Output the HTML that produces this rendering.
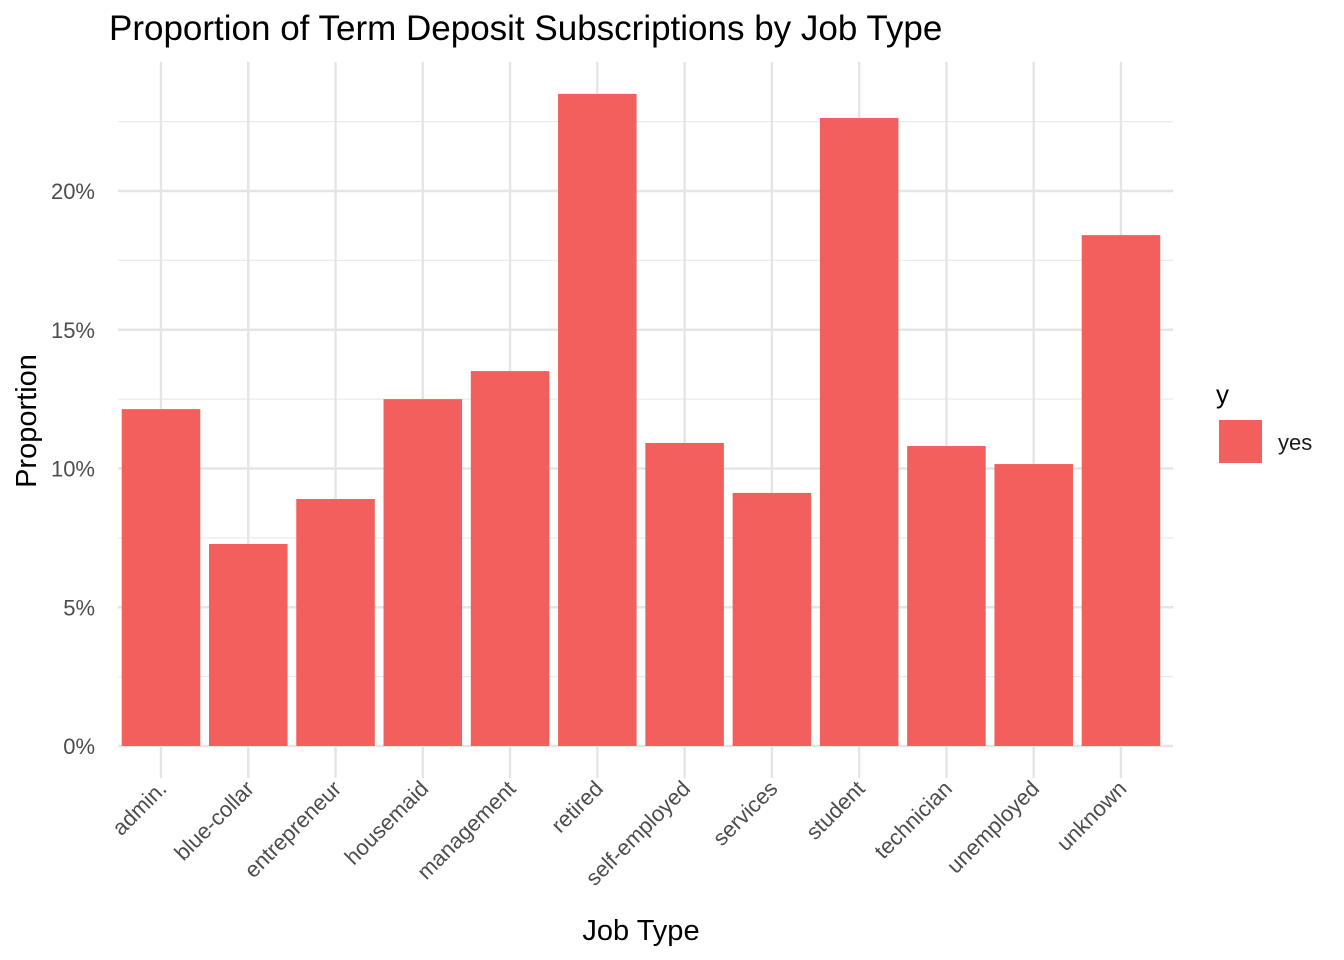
<!DOCTYPE html>
<html><head><meta charset="utf-8"><style>
html,body{margin:0;padding:0;background:#fff;}
svg{display:block;font-family:"Liberation Sans",Arial,sans-serif;}
</style></head><body>
<svg id="chart" width="1344" height="960">
<text x="109" y="40" font-size="35" fill="#000">Proportion of Term Deposit Subscriptions by Job Type</text>
<g id="grid"></g><g id="bars"></g><g id="yticks"></g><g id="xticks"></g>
<text x="641" y="940" font-size="29" text-anchor="middle" fill="#000">Job Type</text>
<text transform="translate(36,421) rotate(-90)" font-size="29" text-anchor="middle" fill="#000">Proportion</text>
<g>
<text x="1216" y="403" font-size="26" fill="#000">y</text>
<rect x="1219" y="420" width="43" height="43" fill="#F25F5C"/>
<text x="1278" y="450" font-size="22" fill="#1a1a1a">yes</text>
</g>
</svg>
<script>
const categories=["admin.","blue-collar","entrepreneur","housemaid","management","retired","self-employed","services","student","technician","unemployed","unknown"];
const values=[12.14,7.28,8.90,12.50,13.51,23.50,10.92,9.12,22.63,10.81,10.16,18.41];
const yTicks=[0,5,10,15,20];
const yTickLabels=["0%","5%","10%","15%","20%"];
(function(){
const NS="http://www.w3.org/2000/svg";
const gLeft=118,gRight=1173,pTop=62,pBottom=778;
const yS=v=>746-v*27.75;
const step=87.27;
const xS=i=>161+step*i;
function mk(tag,attrs,parent){const e=document.createElementNS(NS,tag);for(const k in attrs)e.setAttribute(k,attrs[k]);parent.appendChild(e);return e;}
const grid=document.getElementById('grid'),bars=document.getElementById('bars'),yt=document.getElementById('yticks'),xt=document.getElementById('xticks');
for(let v=2.5;v<24;v+=5){const l=mk('line',{x1:gLeft,x2:gRight,y1:yS(v),y2:yS(v),stroke:'#ebebeb','stroke-width':1.2},grid);

}
yTicks.forEach((v,i)=>{const l=mk('line',{x1:gLeft,x2:gRight,y1:yS(v),y2:yS(v),stroke:'#e5e5e5','stroke-width':2.4},grid);


const t=mk('text',{x:95,y:yS(v)+8,'font-size':22,'text-anchor':'end',fill:'#4d4d4d'},yt);t.textContent=yTickLabels[i];

});
categories.forEach((c,i)=>{const l=mk('line',{x1:xS(i),x2:xS(i),y1:pTop,y2:pBottom,stroke:'#e5e5e5','stroke-width':2.4},grid);


const bw=step*0.9;
const r=mk('rect',{x:xS(i)-bw/2,y:yS(values[i]),width:bw,height:yS(0)-yS(values[i]),fill:'#F25F5C'},bars);


const t=mk('text',{transform:`translate(${xS(i)+7},790) rotate(-45)`,'font-size':22,'text-anchor':'end',fill:'#4d4d4d'},xt);t.textContent=c;

});
})();
</script>
</body></html>
